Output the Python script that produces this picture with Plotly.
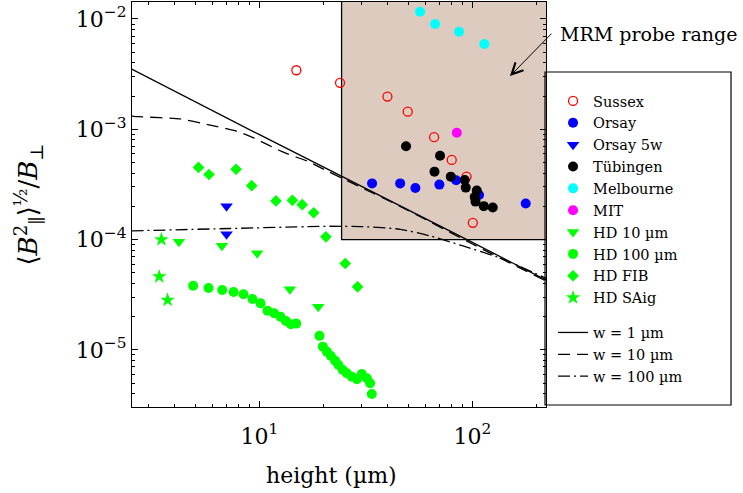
import plotly.graph_objects as go

# ---- measured roughness ratio <B_par^2>^(1/2) / B_perp versus height (µm) ----
sussex_h = [14.9, 23.9, 39.9, 49.7, 66.1, 80.0, 93.9, 100.5]
sussex_b = [3.43e-3, 2.64e-3, 1.98e-3, 1.445e-3, 8.48e-4, 5.27e-4, 3.72e-4, 1.42e-4]

orsay_h = [33.8, 45.8, 54.0, 70.0, 83.9, 107.5, 178.1]
orsay_b = [3.23e-4, 3.23e-4, 2.94e-4, 3.15e-4, 3.45e-4, 2.54e-4, 2.12e-4]

orsay5w_h = [7.0, 7.0]
orsay5w_b = [2.0e-4, 1.12e-4]

tubingen_h = [48.8, 70.5, 66.4, 79.2, 92.1, 93.1, 104.9, 102.6, 103.5, 113.2, 124.7]
tubingen_b = [7.01e-4, 5.75e-4, 4.13e-4, 3.72e-4, 3.47e-4, 2.96e-4, 2.78e-4,
              2.43e-4, 2.21e-4, 2.01e-4, 1.95e-4]

melbourne_h = [56.8, 66.8, 86.6, 113.8]
melbourne_b = [1.165e-2, 9.01e-3, 7.67e-3, 5.93e-3]

mit_h = [84.5]
mit_b = [9.31e-4]

hd10_h = [4.18, 6.66, 9.75, 13.89, 18.87]
hd10_b = [9.55e-5, 8.79e-5, 7.53e-5, 3.55e-5, 2.46e-5]

hd100_h = [4.88, 5.76, 6.68, 7.55, 8.41, 9.27, 10.11, 10.90, 11.72, 12.55, 13.30,
           14.04, 14.87, 19.13, 19.85, 20.72, 21.64, 22.67, 23.49, 24.63, 25.72,
           27.16, 28.67, 30.26, 31.94, 33.09, 33.71]
hd100_b = [3.82e-5, 3.64e-5, 3.49e-5, 3.35e-5, 3.19e-5, 2.89e-5, 2.64e-5, 2.26e-5,
           2.15e-5, 2.00e-5, 1.83e-5, 1.71e-5, 1.73e-5, 1.34e-5, 1.07e-5, 9.64e-6,
           8.81e-6, 7.98e-6, 7.30e-6, 6.58e-6, 6.14e-6, 5.71e-6, 5.41e-6, 6.05e-6,
           5.53e-6, 4.98e-6, 3.98e-6]

hdfib_h = [5.17, 5.79, 7.76, 9.19, 11.95, 14.27, 15.87, 17.97, 20.5, 25.26, 28.9]
hdfib_b = [4.51e-4, 3.89e-4, 4.34e-4, 3.08e-4, 2.24e-4, 2.27e-4, 2.07e-4, 1.75e-4,
           1.06e-4, 6.07e-5, 3.73e-5]

hdsaig_h = [3.46, 3.38, 3.70]
hdsaig_b = [1.0e-4, 4.61e-5, 2.83e-5]

# ---- model curves for three wire widths ----
w1_h = [2.5, 10, 100, 225]
w1_b = [3.53e-3, 8.93e-4, 9.42e-5, 4.24e-5]

w10_h = [2.5, 2.7, 4.25, 5.87, 7.83, 9.44, 12.7, 17.1, 20.7, 45.8, 100, 225]
w10_b = [1.32e-3, 1.30e-3, 1.24e-3, 1.09e-3, 9.59e-4, 8.3e-4, 6.3e-4, 5.06e-4,
         4.2e-4, 2.0e-4, 9.12e-5, 4.15e-5]

w100_h = [2.5, 7.28, 21.48, 30.69, 45.8, 63.3, 90.4, 134.9, 225]
w100_b = [1.20e-4, 1.26e-4, 1.32e-4, 1.31e-4, 1.24e-4, 1.08e-4, 8.75e-5, 6.81e-5, 4.4e-5]

# MRM probe window
mrm_h = [24.3, 400]
mrm_b = [1e-4, 0.1]

# axis ticks
x_tickvals = [10, 100]
x_ticktext = ["10<sup>1</sup>", "10<sup>2</sup>"]
y_tickvals = [1e-5, 1e-4, 1e-3, 1e-2]
y_ticktext = ["10<sup>\u22125</sup>", "10<sup>\u22124</sup>",
              "10<sup>\u22123</sup>", "10<sup>\u22122</sup>"]

x_range = [0.401, 2.346]
y_range = [-5.518, -1.846]

FONT = "DejaVu Serif"
GREEN = "#00ff00"

x_minor = [m * 10 ** e for e in range(0, 3) for m in range(2, 10)
           if 10 ** x_range[0] <= m * 10 ** e <= 10 ** x_range[1]]
y_minor = [m * 10.0 ** e for e in range(-6, -1) for m in range(2, 10)
           if 10 ** y_range[0] <= m * 10.0 ** e <= 10 ** y_range[1]]

fig = go.Figure()

# model curves
curve_specs = [
    (w1_h, w1_b, "w = 1 \u00b5m", "solid"),
    (w10_h, w10_b, "w = 10 \u00b5m", "12px,7px"),
    (w100_h, w100_b, "w = 100 \u00b5m", "12px,4px,2px,4px"),
]
for i, (hx, by, name, dash) in enumerate(curve_specs):
    fig.add_trace(go.Scatter(
        x=hx, y=by, mode="lines", name=name,
        line=dict(color="black", width=1.3, dash=dash, shape="spline", smoothing=0.6),
        legendgroup="model", legendrank=100 + i,
    ))

# measurements
point_specs = [
    (sussex_h, sussex_b, "Sussex", dict(symbol="circle-open", size=9, color="red",
                                        line=dict(width=1.3, color="red"))),
    (orsay_h, orsay_b, "Orsay", dict(symbol="circle", size=10, color="blue")),
    (orsay5w_h, orsay5w_b, "Orsay 5w", dict(symbol="triangle-down", size=11, color="blue")),
    (tubingen_h, tubingen_b, "T\u00fcbingen", dict(symbol="circle", size=10, color="black")),
    (melbourne_h, melbourne_b, "Melbourne", dict(symbol="circle", size=10, color="cyan")),
    (mit_h, mit_b, "MIT", dict(symbol="circle", size=10, color="magenta")),
    (hd10_h, hd10_b, "HD 10 \u00b5m", dict(symbol="triangle-down", size=11, color=GREEN)),
    (hd100_h, hd100_b, "HD 100 \u00b5m", dict(symbol="circle", size=10, color=GREEN)),
    (hdfib_h, hdfib_b, "HD FIB", dict(symbol="diamond", size=9, color=GREEN)),
    (hdsaig_h, hdsaig_b, "HD SAig", dict(symbol="star", size=11, color=GREEN)),
]
for i, (hx, by, name, mk) in enumerate(point_specs):
    fig.add_trace(go.Scatter(
        x=hx, y=by, mode="markers", name=name, marker=mk,
        legendgroup="data", legendrank=1 + i,
    ))

# shaded probe window
fig.add_shape(type="rect", xref="x", yref="y",
              x0=mrm_h[0], x1=mrm_h[1], y0=mrm_b[0], y1=mrm_b[1],
              fillcolor="#ddcbbf", line=dict(color="black", width=1.3), layer="below")

# legend frame
fig.add_shape(type="rect", xref="paper", yref="paper",
              x0=0.9976, x1=1.4469, y0=0.0049, y1=0.8272,
              line=dict(color="black", width=1.2), fillcolor="rgba(0,0,0,0)")

axis_common = dict(
    type="log", showgrid=False, zeroline=False,
    showline=True, linecolor="black", linewidth=1.3, mirror="ticks",
    ticks="inside", ticklen=6, tickwidth=1, tickcolor="black",
    tickfont=dict(family=FONT, size=22, color="black"),
)

fig.update_xaxes(range=x_range, tickmode="array", tickvals=x_tickvals, ticktext=x_ticktext,
                 ticklabelstandoff=9,
                 minor=dict(tickmode="array", tickvals=x_minor, ticks="inside",
                            ticklen=3, tickcolor="black"),
                 **axis_common)
fig.update_yaxes(range=y_range, tickmode="array", tickvals=y_tickvals, ticktext=y_ticktext,
                 minor=dict(tickmode="array", tickvals=y_minor, ticks="inside",
                            ticklen=3, tickcolor="black"),
                 **axis_common)

fig.add_annotation(text="height (\u00b5m)", xref="paper", yref="paper",
                   x=0.4807, y=-0.168, xanchor="center", yanchor="middle",
                   showarrow=False, font=dict(family=FONT, size=22, color="black"))
fig.add_annotation(text="\u27e8<i>B</i><sup>2</sup><sub>\u2225</sub>\u27e9<sup>\u00bd</sup>/<i>B</i><sub>\u22a5</sub>",
                   xref="paper", yref="paper", x=-0.251, y=0.5,
                   xanchor="center", yanchor="middle", textangle=-90,
                   showarrow=False, font=dict(family=FONT, size=26, color="black"))

fig.add_annotation(text="MRM probe range", xref="paper", yref="paper",
                   x=1.029, y=0.921, xanchor="left", yanchor="middle",
                   showarrow=False, font=dict(family=FONT, size=19, color="black"))
fig.add_annotation(text="", xref="paper", yref="paper", x=0.913, y=0.817,
                   ax=43, ay=-44, showarrow=True, arrowhead=5, arrowsize=2.2,
                   arrowwidth=1, arrowcolor="black")

fig.update_layout(
    width=743, height=493,
    margin=dict(l=132, r=197, t=2, b=86),
    paper_bgcolor="white", plot_bgcolor="white",
    font=dict(family=FONT, color="black"),
    legend=dict(x=1.017, y=0.795, xanchor="left", yanchor="top",
                font=dict(family=FONT, size=14.5, color="black"),
                bgcolor="rgba(0,0,0,0)", borderwidth=0,
                traceorder="grouped", tracegroupgap=13),
)

fig.write_html("out.html")
